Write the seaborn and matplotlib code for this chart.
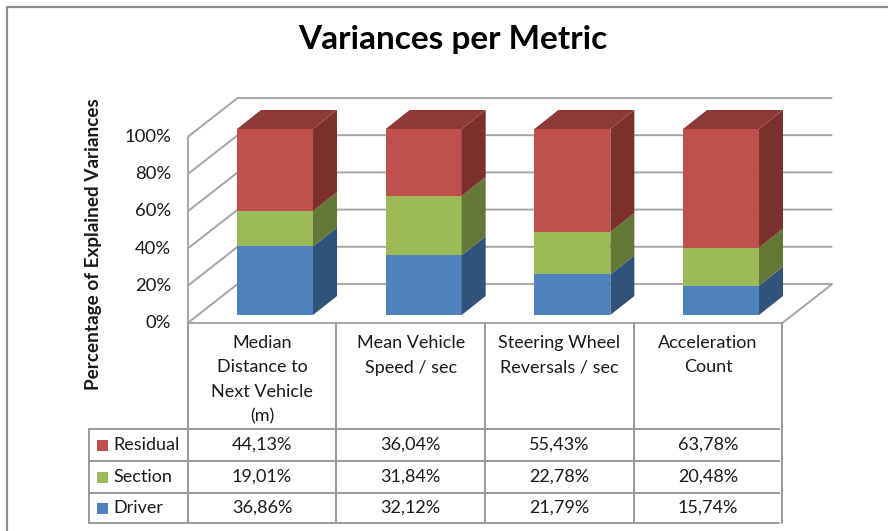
import numpy as np
import pandas as pd
import matplotlib
matplotlib.use("Agg")
import matplotlib.pyplot as plt
import matplotlib.transforms as mtransforms
from matplotlib.patches import Polygon, Rectangle
from matplotlib.lines import Line2D
import seaborn as sns

# ---- data -------------------------------------------------------------
metrics = [
    "Median\nDistance to\nNext Vehicle\n(m)",
    "Mean Vehicle\nSpeed / sec",
    "Steering Wheel\nReversals / sec",
    "Acceleration\nCount",
]
series = ["Residual", "Section", "Driver"]
residual = [44.13, 36.04, 55.43, 63.78]
section = [19.01, 31.84, 22.78, 20.48]
driver = [36.86, 32.12, 21.79, 15.74]
yticks = [0, 20, 40, 60, 80, 100]
ytick_labels = ["0%", "20%", "40%", "60%", "80%", "100%"]

# ---- style ------------------------------------------------------------
sns.set_theme(style="white")
plt.rcParams["font.family"] = ["Lato", "DejaVu Sans"]

front = {"Residual": "#C0504D", "Section": "#9BBB59", "Driver": "#4F81BD"}
side = {"Residual": "#7B302E", "Section": "#637837", "Driver": "#31527A"}
top = {"Residual": "#8E3A38", "Section": "#728A41", "Driver": "#3A6190"}
grid_c = "#A6A6A6"
text_c = "#1A1A1A"
table_fs = 13

W, H = 888, 531
fig = plt.figure(figsize=(W / 100, H / 100), dpi=100)
fig.patch.set_facecolor("white")


def fx(px):
    return px / W


def fy(py):
    return 1 - py / H


# plotting plane of the bar fronts
slot = 148.67          # px per category
unit = 1.86            # px per percent
x0_px, y0_px = 275, 315
ax = fig.add_axes([fx(x0_px - slot / 2), fy(y0_px), 4 * slot / W, 100 * unit / H])

df = pd.DataFrame({"metric": metrics, "Residual": residual,
                   "Section": section, "Driver": driver})
df["c_driver"] = df["Driver"]
df["c_section"] = df["Driver"] + df["Section"]
df["c_residual"] = df["c_section"] + df["Residual"]

bw = 76 / slot
for col, name in [("c_residual", "Residual"), ("c_section", "Section"),
                  ("c_driver", "Driver")]:
    sns.barplot(data=df, x="metric", y=col, color=front[name], saturation=1,
                width=bw, errorbar=None, linewidth=0, zorder=3, ax=ax)

ax.set_xlim(-0.5, 3.5)
ax.set_ylim(0, 100)
ax.axis("off")

# depth geometry (data units)
fdx, fdy = -13 / slot, -8 / unit          # wall front plane vs bar plane
wdx, wdy = 50 / slot, 39 / unit           # total wall depth
bdx, bdy = 24 / slot, 19 / unit           # bar depth

xl_f, xr_f = -0.5 + fdx, 3.5 + fdx
xl_b, xr_b = xl_f + wdx, xr_f + wdx

line_kw = dict(color=grid_c, lw=1.4, transform=ax.transData, clip_on=False,
               zorder=1, solid_capstyle="butt")
for t in yticks:
    yf, yb = t + fdy, t + fdy + wdy
    ax.add_line(Line2D([xl_f, xl_b, xr_b], [yf, yb, yb], **line_kw))
# left wall front edge
ax.add_line(Line2D([xl_f, xl_f], [fdy, 100 + fdy], **line_kw))
# floor
ax.add_line(Line2D([xl_f, xr_f, xr_b], [fdy, fdy, fdy + wdy], **line_kw))

# bar sides and tops
for i in range(len(metrics)):
    xr = i + bw / 2
    xl = i - bw / 2
    segs = [("Driver", 0, df["c_driver"][i]),
            ("Section", df["c_driver"][i], df["c_section"][i]),
            ("Residual", df["c_section"][i], df["c_residual"][i])]
    for name, a, b in segs:
        ax.add_patch(Polygon([(xr, a), (xr + bdx, a + bdy), (xr + bdx, b + bdy), (xr, b)],
                             closed=True, facecolor=side[name], edgecolor="none",
                             zorder=3, clip_on=False))
    ytop = df["c_residual"][i]
    ax.add_patch(Polygon([(xl, ytop), (xr, ytop), (xr + bdx, ytop + bdy), (xl + bdx, ytop + bdy)],
                         closed=True, facecolor=top["Residual"], edgecolor="none",
                         zorder=3, clip_on=False))

# y tick labels on the front plane
tr_fy = mtransforms.blended_transform_factory(fig.transFigure, ax.transData)
for t, lab in zip(yticks, ytick_labels):
    ax.text(fx(171), t + fdy, lab, transform=tr_fy, ha="right", va="center",
            fontsize=13.3, color=text_c)

# y axis title
fig.text(fx(93), fy(244), "Percentage of Explained Variances", rotation=90,
         ha="center", va="center", fontsize=13.6, fontweight="bold", color=text_c)

# chart title
fig.text(fx(453), fy(49), "Variances per Metric", ha="center", va="baseline",
         fontsize=24, fontweight="bold", color="black")

# ---- data table -------------------------------------------------------
tr_xd = mtransforms.blended_transform_factory(ax.transData, fig.transFigure)
row_lines = [323, 429, 461, 493, 523]
tab_kw = dict(color="#9A9A9A", lw=1.4, clip_on=False, zorder=2)
col_edges = [k - 0.5 + fdx for k in range(len(metrics) + 1)]
for xe in col_edges:
    fig.add_artist(Line2D([xe, xe], [fy(323), fy(523)], transform=tr_xd, **tab_kw))
for ry in row_lines[1:]:
    fig.add_artist(Line2D([fx(89), fx(779)], [fy(ry), fy(ry)], **tab_kw))
fig.add_artist(Line2D([fx(89), fx(89)], [fy(429), fy(523)], **tab_kw))

# header cells
for i, m in enumerate(metrics):
    for k, line in enumerate(m.split("\n")):
        fig.text(0, fy(343 + k * 24.5), line, transform=tr_xd, ha="center", va="center",
                 fontsize=table_fs, color=text_c).set_x(i + fdx)

# value rows
row_vals = {"Residual": residual, "Section": section, "Driver": driver}
for r, name in enumerate(series):
    cy = (row_lines[r + 1] + row_lines[r + 2]) / 2
    fig.add_artist(Rectangle((fx(97), fy(cy + 5.5)), 11 / W, 11 / H,
                             facecolor=front[name], edgecolor="none"))
    fig.text(fx(113), fy(cy), name, ha="left", va="center", fontsize=table_fs, color=text_c)
    for i, v in enumerate(row_vals[name]):
        lab = f"{v:.2f}%".replace(".", ",")
        fig.text(0, fy(cy), lab, transform=tr_xd, ha="center", va="center",
                 fontsize=table_fs, color=text_c).set_x(i + fdx)

# outer chart border
fig.add_artist(Line2D([fx(7), fx(7), fx(888)], [fy(531), fy(7), fy(7)],
                      color="#8C8C8C", lw=1.6))

fig.savefig("out.png", dpi=100, facecolor="white")
